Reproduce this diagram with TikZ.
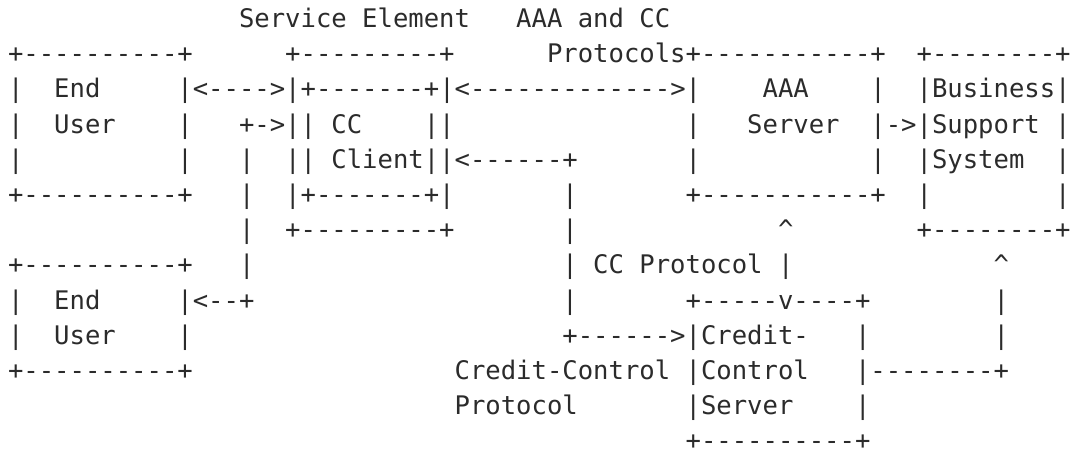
\documentclass[tikz,border=0pt]{standalone}
\usepackage{fontspec}
\newfontfamily\asc{DejaVu Sans Mono}[Ligatures=TeXOff]
\definecolor{ink}{HTML}{2B2B2B}
\newcommand{\cw}{15.4}
\newcommand{\xo}{8}
\newcommand{\rowh}{35.2}
\newcommand{\bo}{27.5}
\newcommand{\seg}[3]{\node[asctxt] (r#1c#2) at ({\xo+#2*\cw},{\bo+(#1-1)*\rowh}) {#3};}
\tikzset{asctxt/.style={anchor=base west, inner sep=0pt, outer sep=0pt, text=ink, font=\asc\fontsize{19.19pt}{22pt}\selectfont}}
\begin{document}
\begin{tikzpicture}[x=0.75pt,y=-0.75pt]
\useasboundingbox (0,0) rectangle (1071,458);
% row 1
\seg{1}{15}{Service}\seg{1}{23}{Element}\seg{1}{33}{AAA}\seg{1}{37}{and}\seg{1}{41}{CC}
% row 2
\seg{2}{0}{+----------+}\seg{2}{18}{+---------+}\seg{2}{35}{Protocols+-----------+}\seg{2}{59}{+--------+}
% row 3
\seg{3}{0}{|}\seg{3}{3}{End}\seg{3}{11}{|<---->|+-------+|<------------->|}\seg{3}{49}{AAA}\seg{3}{56}{|}\seg{3}{59}{|Business|}
% row 4
\seg{4}{0}{|}\seg{4}{3}{User}\seg{4}{11}{|}\seg{4}{15}{+->||}\seg{4}{21}{CC}\seg{4}{27}{||}\seg{4}{44}{|}\seg{4}{48}{Server}\seg{4}{56}{|->|Support}\seg{4}{68}{|}
% row 5
\seg{5}{0}{|}\seg{5}{11}{|}\seg{5}{15}{|}\seg{5}{18}{||}\seg{5}{21}{Client||<------+}\seg{5}{44}{|}\seg{5}{56}{|}\seg{5}{59}{|System}\seg{5}{68}{|}
% row 6
\seg{6}{0}{+----------+}\seg{6}{15}{|}\seg{6}{18}{|+-------+|}\seg{6}{36}{|}\seg{6}{44}{+-----------+}\seg{6}{59}{|}\seg{6}{68}{|}
% row 7
\seg{7}{15}{|}\seg{7}{18}{+---------+}\seg{7}{36}{|}\seg{7}{50}{\textasciicircum}\seg{7}{59}{+--------+}
% row 8
\seg{8}{0}{+----------+}\seg{8}{15}{|}\seg{8}{36}{|}\seg{8}{38}{CC}\seg{8}{41}{Protocol}\seg{8}{50}{|}\seg{8}{64}{\textasciicircum}
% row 9
\seg{9}{0}{|}\seg{9}{3}{End}\seg{9}{11}{|<--+}\seg{9}{36}{|}\seg{9}{44}{+-----v----+}\seg{9}{64}{|}
% row 10
\seg{10}{0}{|}\seg{10}{3}{User}\seg{10}{11}{|}\seg{10}{36}{+------>|Credit-}\seg{10}{55}{|}\seg{10}{64}{|}
% row 11
\seg{11}{0}{+----------+}\seg{11}{29}{Credit-Control}\seg{11}{44}{|Control}\seg{11}{55}{|--------+}
% row 12
\seg{12}{29}{Protocol}\seg{12}{44}{|Server}\seg{12}{55}{|}
% row 13
\seg{13}{44}{+----------+}
\end{tikzpicture}
\end{document}
